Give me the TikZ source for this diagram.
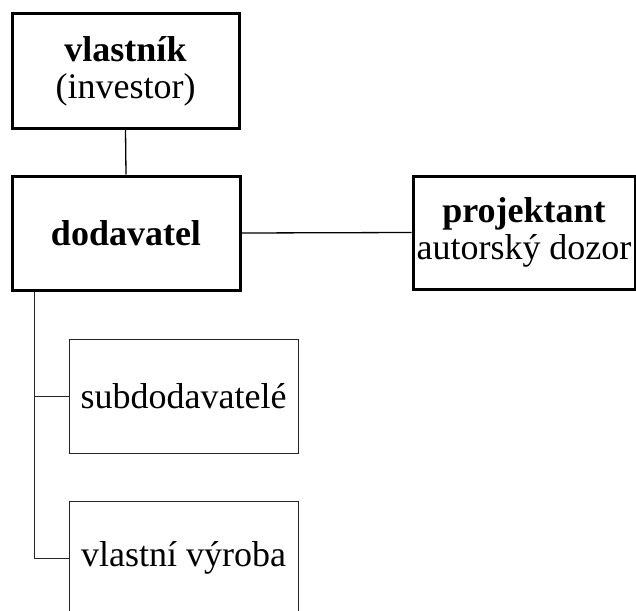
\documentclass[tikz,border=0pt]{standalone}
\usepackage{fontspec}
\setmainfont{Liberation Serif}
\begin{document}
\begin{tikzpicture}[x=1pt,y=-1pt,
  thickbox/.style={draw=black,line width=3pt,fill=white,inner sep=0pt,align=center,
    font=\fontsize{36}{37}\selectfont},
  thinbox/.style={draw=black!85,line width=0.9pt,fill=white,inner sep=0pt,align=center,
    font=\fontsize{36}{37}\selectfont},
  link/.style={draw=black,line width=1.3pt},
  branch/.style={draw=black!85,line width=1pt}]
\useasboundingbox (0,0) rectangle (636,610);
\clip (0,0) rectangle (636,610);
\node[thickbox,minimum width=227pt,minimum height=114pt] (own) at (125.5,71) {\textbf{vlastník}\\(investor)};
\node[thickbox,minimum width=228pt,minimum height=114pt] (sup) at (126,233) {\textbf{dodavatel}};
\node[thickbox,minimum width=222pt,minimum height=113pt] (proj) at (524,232.5) {\textbf{projektant}\\autorský dozor};
\node[thinbox,minimum width=229pt,minimum height=114pt] (sub) at (183.5,396) {subdodavatelé};
\node[thinbox,minimum width=229pt,minimum height=114pt] (own2) at (183.5,558) {vlastní výroba};
\coordinate (t) at ([xshift=23.5pt]sup.south west);
\draw[link] (own.south) -- (sup.north);
\draw[link] (sup.east) -- (proj.west);
\draw[branch] (t) |- (own2.west);
\draw[branch] (sub.west) -- (sub.west -| t);
\end{tikzpicture}
\end{document}
